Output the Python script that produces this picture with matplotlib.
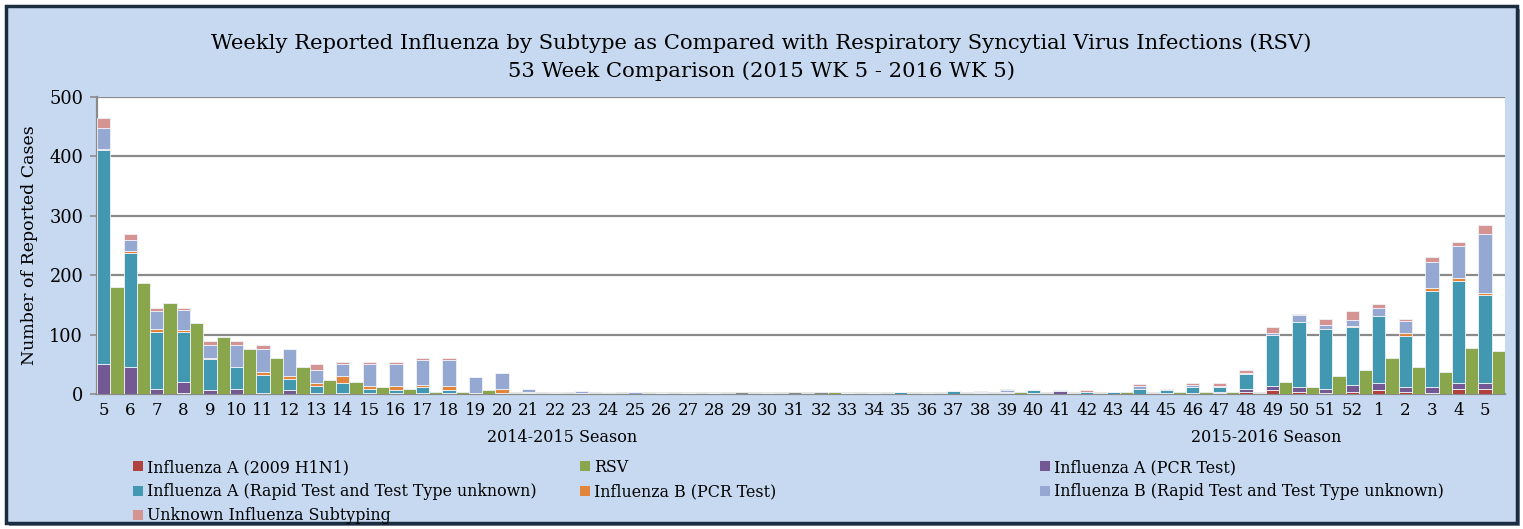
import matplotlib
matplotlib.use("Agg")
import matplotlib.pyplot as plt
from matplotlib.patches import Rectangle, Patch
from matplotlib.transforms import blended_transform_factory
import numpy as np

weeks = list(range(5, 53)) + [1, 2, 3, 4, 5]

h1n1 = [0, 0, 0, 2, 0, 0, 0, 0, 1, 0, 1, 0, 0, 1, 0, 0, 0, 0, 0, 0, 0, 0, 0, 0, 0, 0, 0, 0, 0, 0, 0, 0, 0, 0, 1,
        0, 0, 0, 0, 0, 0, 0, 1, 4, 6, 3, 1, 4, 6, 3, 2, 9, 8]
a_pcr = [50, 46, 9, 19, 6, 9, 2, 6, 1, 2, 0, 2, 1, 1, 1, 2, 1, 0, 1, 0, 0, 0, 1, 0, 0, 0, 0, 0, 0, 0, 0, 0, 0, 0, 2,
         1, 5, 0, 0, 0, 1, 1, 2, 4, 8, 8, 7, 11, 12, 8, 10, 9, 11]
a_rapid = [361, 191, 96, 84, 53, 37, 30, 20, 12, 16, 7, 5, 10, 4, 0, 0, 0, 0, 0, 1, 0, 1, 0, 1, 0, 0, 0, 0, 1, 1, 3, 0, 5, 2, 1,
           6, 0, 3, 4, 9, 5, 11, 9, 26, 85, 110, 101, 97, 113, 87, 161, 172, 147]
b_pcr = [2, 3, 4, 2, 2, 0, 5, 5, 5, 13, 5, 6, 4, 8, 0, 7, 3, 0, 0, 3, 0, 0, 0, 0, 0, 0, 0, 0, 0, 0, 0, 0, 0, 0, 0,
         0, 0, 0, 0, 0, 0, 0, 0, 0, 0, 0, 0, 2, 0, 5, 5, 6, 4]
b_rapid = [35, 20, 30, 34, 22, 37, 38, 44, 22, 20, 37, 38, 43, 44, 27, 26, 4, 2, 4, 0, 3, 0, 0, 0, 0, 2, 0, 0, 0, 0, 0, 1, 0, 2, 2,
           0, 2, 1, 0, 5, 0, 3, 2, 2, 4, 12, 8, 11, 14, 20, 45, 53, 99]
unknown = [17, 9, 5, 3, 7, 6, 8, 1, 10, 3, 4, 3, 3, 3, 0, 0, 0, 2, 0, 0, 0, 0, 0, 0, 0, 0, 0, 0, 0, 0, 0, 0, 0, 1, 2,
           0, 0, 3, 0, 3, 2, 3, 5, 4, 9, 1, 10, 15, 6, 4, 7, 7, 15]
rsv = [180, 187, 154, 120, 96, 75, 61, 46, 23, 21, 11, 8, 4, 4, 7, 2, 1, 1, 2, 2, 1, 1, 1, 1, 1, 1, 1, 3, 1, 1, 1, 1, 1, 2, 3,
       2, 2, 2, 3, 1, 3, 4, 3, 2, 20, 11, 30, 41, 60, 45, 37, 78, 73]

seasons = ["2014-2015 Season", "2015-2016 Season"]
season_sizes = [35, 18]

flu_series = [
    ("Influenza A (2009 H1N1)", h1n1, "#B0413E"),
    ("Influenza A (PCR Test)", a_pcr, "#745893"),
    ("Influenza A (Rapid Test and Test Type unknown)", a_rapid, "#4298B1"),
    ("Influenza B (PCR Test)", b_pcr, "#E2843A"),
    ("Influenza B (Rapid Test and Test Type unknown)", b_rapid, "#95A8D1"),
    ("Unknown Influenza Subtyping", unknown, "#D59392"),
]
rsv_color = "#8AA64C"

W, H = 1523, 529
fig = plt.figure(figsize=(W / 100, H / 100), dpi=100)
fig.patch.set_facecolor("white")
bg = "#C6D9F0"
shadow = Rectangle((9 / W, 3 / H), 1511 / W, 517 / H, transform=fig.transFigure,
                   facecolor="#7F8A96", edgecolor="none", zorder=-11)
fig.add_artist(shadow)
frame = Rectangle((6 / W, 6 / H), 1511 / W, 517 / H, transform=fig.transFigure,
                  facecolor=bg, edgecolor="#1B2D40", linewidth=2.5, zorder=-10)
fig.add_artist(frame)

serif = "DejaVu Serif"
ax = fig.add_axes([97 / W, 1 - 394 / H, (1505 - 97) / W, (394 - 97) / H])
ax.set_zorder(5)
ax.set_facecolor("white")

n = len(weeks)
xf = np.arange(n) * 2
xr = xf + 1
bottom = np.zeros(n)
for label, vals, col in flu_series:
    v = np.array(vals, dtype=float)
    ax.bar(xf, v, width=1.0, bottom=bottom, color=col, edgecolor="#EEF2F8", linewidth=0.6, zorder=3)
    bottom += v
ax.bar(xr, rsv, width=1.0, color=rsv_color, edgecolor="#EEF2F8", linewidth=0.6, zorder=3)

ax.set_xlim(-0.5, 2 * n - 0.5)
ax.set_ylim(0, 500)
ax.set_yticks(range(0, 501, 100))
ax.yaxis.grid(True, color="#8A8A8A", linewidth=1.6, zorder=0)
ax.set_axisbelow(True)
ax.set_xticks(xf)
ax.set_xticklabels([str(w) for w in weeks], family=serif, fontsize=12)
ax.tick_params(axis="x", length=0, pad=6)
ax.tick_params(axis="y", length=5, color="#8A8A8A", width=1.2, labelsize=12.8, pad=5)
for t in ax.get_yticklabels():
    t.set_family(serif)
for s in ["top", "right"]:
    ax.spines[s].set_visible(False)
ax.spines["left"].set_color("#8A8A8A")
ax.spines["left"].set_linewidth(1.6)
ax.spines["bottom"].set_color("#8A8A8A")
ax.spines["bottom"].set_linewidth(1.6)

trans = blended_transform_factory(ax.transData, fig.transFigure)
start = 0
for name, size in zip(seasons, season_sizes):
    c = (start * 2 - 0.5 + (start + size) * 2 - 0.5) / 2
    ax.text(c, 1 - 438 / H, name, transform=trans, ha="center", va="center", family=serif, fontsize=11.5)
    start += size

ax.set_ylabel("Number of Reported Cases", family=serif, fontsize=12.5, labelpad=8)

fig.text(761 / W, 1 - 43 / H, "Weekly Reported Influenza by Subtype as Compared with Respiratory Syncytial Virus Infections (RSV)",
         ha="center", va="center", family=serif, fontsize=15.2)
fig.text(761 / W, 1 - 71 / H, "53 Week Comparison (2015 WK 5 - 2016 WK 5)",
         ha="center", va="center", family=serif, fontsize=15.2)

handles = {lab: Patch(facecolor=col, edgecolor="none") for lab, _, col in flu_series}
handles["RSV"] = Patch(facecolor=rsv_color, edgecolor="none")
cols = [
    (["Influenza A (2009 H1N1)", "Influenza A (Rapid Test and Test Type unknown)", "Unknown Influenza Subtyping"], 133),
    (["RSV", "Influenza B (PCR Test)"], 580),
    (["Influenza A (PCR Test)", "Influenza B (Rapid Test and Test Type unknown)"], 1040),
]
for labs, x0 in cols:
    fig.legend([handles[l] for l in labs], labs, loc="upper left", bbox_to_anchor=(x0 / W, 1 - 459 / H),
               frameon=False, prop={"family": serif, "size": 11.4}, handlelength=0.6, handleheight=0.6,
               handletextpad=0.3, labelspacing=0.45, borderpad=0, borderaxespad=0)

fig.savefig("out.png", dpi=100, facecolor=fig.get_facecolor())
